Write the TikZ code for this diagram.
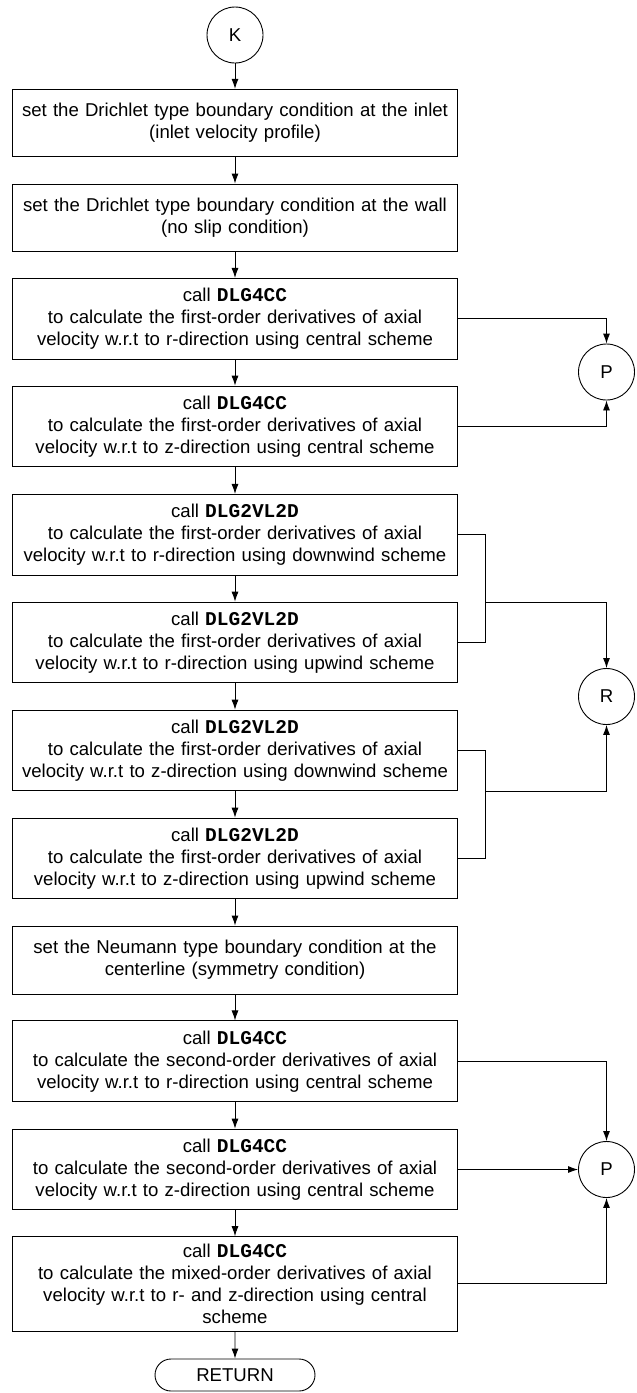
\documentclass[tikz,border=0pt]{standalone}
\usepackage{fontspec}
\setmainfont{Liberation Sans}
\newfontfamily\codefont{Liberation Mono}
\usetikzlibrary{arrows.meta,shapes.misc}
\newcommand{\cmd}[1]{{\fontsize{19.5}{22}\codefont\bfseries #1}}
\begin{document}
\begin{tikzpicture}[x=1pt,y=-1pt,
  font=\fontsize{18.6}{22}\selectfont,
  line width=0.9pt,
  proc/.style={draw, rectangle, align=center, minimum width=445.4pt, inner sep=1pt, text width=441pt},
  conn/.style={draw, circle, minimum size=56pt, inner sep=0pt},
  term/.style={draw, rounded rectangle, minimum width=160pt, minimum height=32pt, inner sep=0pt},
  arr/.style={-{Latex[length=10pt,width=7pt]}}
]
\useasboundingbox (0,0) rectangle (637,1393);

\node[conn] (K) at (235,35) {K};
\node[proc, minimum height=67.4pt] (b1) at (235,123) {set the Drichlet type boundary condition at the inlet\\(inlet velocity profile)};
\node[proc, minimum height=67.4pt] (b2) at (235,217.7) {set the Drichlet type boundary condition at the wall\\(no slip condition)};
\node[proc, minimum height=80.8pt] (b3) at (235,318.8) {call \cmd{DLG4CC}\\to calculate the first-order derivatives of axial\\velocity w.r.t to r-direction using central scheme};
\node[proc, minimum height=80.8pt] (b4) at (235,426.5) {call \cmd{DLG4CC}\\to calculate the first-order derivatives of axial\\velocity w.r.t to z-direction using central scheme};
\node[proc, minimum height=80.8pt] (b5) at (235,534.8) {call \cmd{DLG2VL2D}\\to calculate the first-order derivatives of axial\\velocity w.r.t to r-direction using downwind scheme};
\node[proc, minimum height=80.8pt] (b6) at (235,642.5) {call \cmd{DLG2VL2D}\\to calculate the first-order derivatives of axial\\velocity w.r.t to r-direction using upwind scheme};
\node[proc, minimum height=80.8pt] (b7) at (235,750.5) {call \cmd{DLG2VL2D}\\to calculate the first-order derivatives of axial\\velocity w.r.t to z-direction using downwind scheme};
\node[proc, minimum height=80.8pt] (b8) at (235,858.5) {call \cmd{DLG2VL2D}\\to calculate the first-order derivatives of axial\\velocity w.r.t to z-direction using upwind scheme};
\node[proc, minimum height=68pt] (b9) at (235,960) {set the Neumann type boundary condition at the\\centerline (symmetry condition)};
\node[proc, minimum height=80.8pt] (b10) at (235,1061.3) {call \cmd{DLG4CC}\\to calculate the second-order derivatives of axial\\velocity w.r.t to r-direction using central scheme};
\node[proc, minimum height=80.8pt] (b11) at (235,1169.5) {call \cmd{DLG4CC}\\to calculate the second-order derivatives of axial\\velocity w.r.t to z-direction using central scheme};
\node[proc, minimum height=94.3pt] (b12) at (235,1283.8) {call \cmd{DLG4CC}\\to calculate the mixed-order derivatives of axial\\velocity w.r.t to r- and z-direction using central\\scheme};
\node[term] (ret) at (235,1375) {RETURN};

\node[conn] (P1) at (606.5,372) {P};
\node[conn] (R) at (606.5,696.5) {R};
\node[conn] (P2) at (606.5,1169.5) {P};

\coordinate (j1) at (485.7,602.3);
\coordinate (j2) at (485.7,791);

\draw[arr] (K) -- (b1);
\draw[arr] (b1) -- (b2);
\draw[arr] (b2) -- (b3);
\draw[arr] (b3) -- (b4);
\draw[arr] (b4) -- (b5);
\draw[arr] (b5) -- (b6);
\draw[arr] (b6) -- (b7);
\draw[arr] (b7) -- (b8);
\draw[arr] (b8) -- (b9);
\draw[arr] (b9) -- (b10);
\draw[arr] (b10) -- (b11);
\draw[arr] (b11) -- (b12);
\draw[arr] (b12) -- (ret);

\draw[arr] (b3.east) -| (P1.north);
\draw[arr] (b4.east) -| (P1.south);

\draw (b5.east) -| (j1);
\draw (b6.east) -| (j1);
\draw[arr] (j1) -| (R.north);
\draw (b7.east) -| (j2);
\draw (b8.east) -| (j2);
\draw[arr] (j2) -| (R.south);

\draw[arr] (b10.east) -| (P2.north);
\draw[arr] (b11.east) -- (P2.west);
\draw[arr] (b12.east) -| (P2.south);
\end{tikzpicture}
\end{document}
